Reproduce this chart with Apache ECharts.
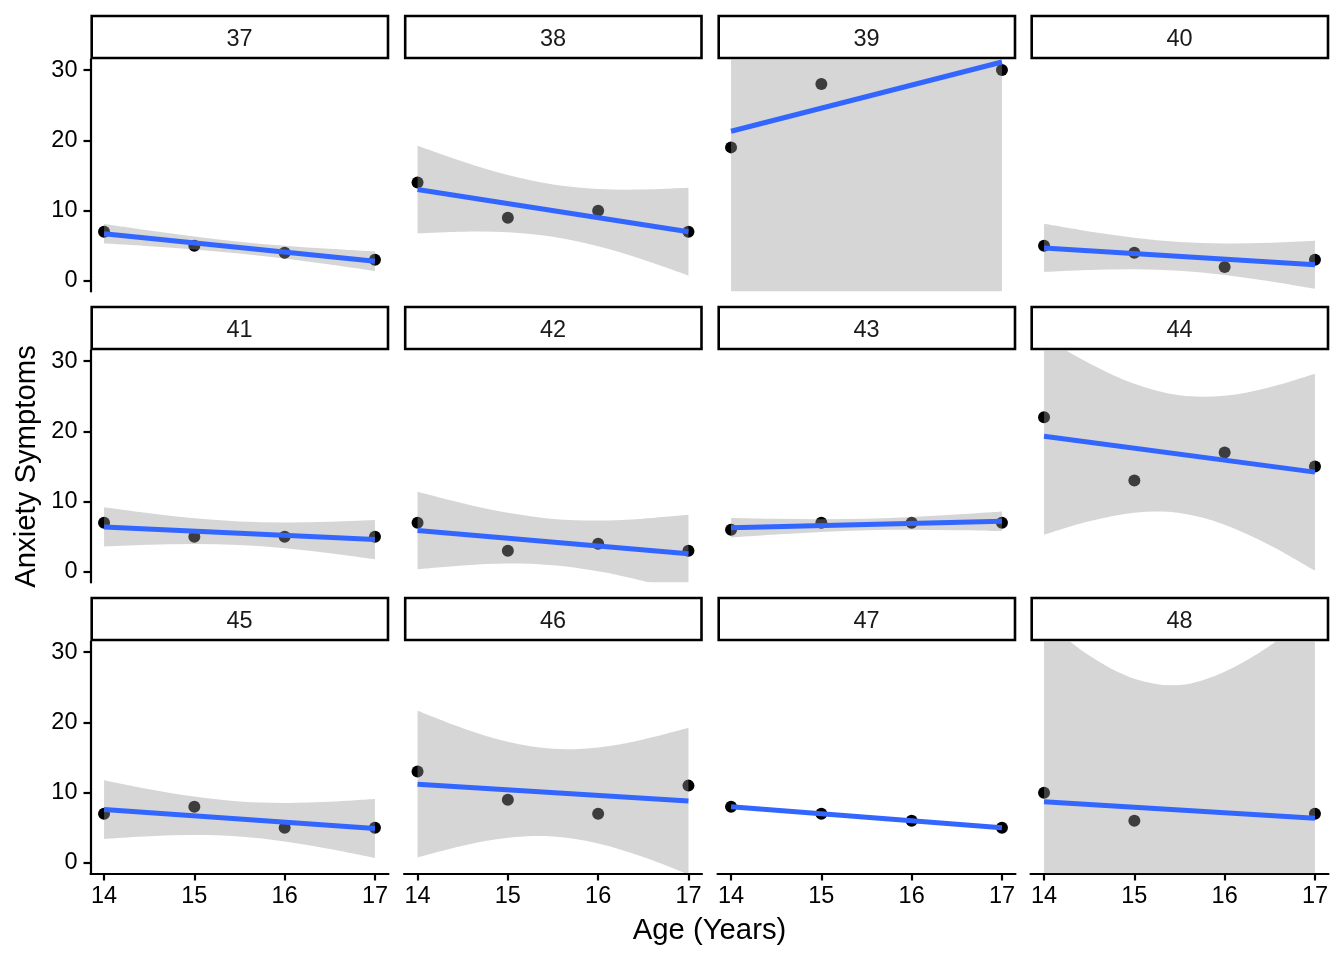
<!DOCTYPE html>
<html><head><meta charset="utf-8">
<script src="https://cdn.jsdelivr.net/npm/echarts@6.0.0/dist/echarts.min.js"></script>
<style>html,body{margin:0;padding:0;background:#fff}#c{width:1344px;height:960px}</style>
</head><body><div id="c"></div>
<script>
// ---- data ----
const panelIds = ['37','38','39','40','41','42','43','44','45','46','47','48'];
const ages = [14, 15, 16, 17];
const anxiety = [
  [7, 5, 4, 3],
  [14, 9, 10, 7],
  [19, 28, null, 30],
  [5, 4, 2, 3],
  [7, 5, 5, 5],
  [7, 3, 4, 3],
  [6, 7, 7, 7],
  [22, 13, 17, 15],
  [7, 8, 5, 5],
  [13, 9, 7, 11],
  [8, 7, 6, 5],
  [10, 6, null, 7]
];
const fitAt14 = [6.7, 13, 21.29, 4.7, 6.4, 5.9, 6.3, 19.3, 7.6, 11.2, 8, 8.71];
const fitAt17 = [2.8, 7, 31.14, 2.3, 4.6, 2.6, 7.2, 14.2, 4.9, 8.8, 5, 6.36];
const bandAges = [14, 14.5, 15, 15.5, 16, 16.5, 17];
const bandUpper = [
  [8.09, 7.17, 6.31, 5.58, 5.01, 4.57, 4.19],
  [19.24, 17.0, 15.08, 13.73, 13.08, 13.0, 13.24],
  [67.2, 60.6, 57.1, 57.9, 63.5, 72.5, 83.5],
  [8.12, 7.04, 6.14, 5.54, 5.34, 5.44, 5.72],
  [9.19, 8.34, 7.63, 7.17, 7.03, 7.14, 7.39],
  [11.42, 9.78, 8.41, 7.55, 7.31, 7.58, 8.12],
  [7.69, 7.57, 7.51, 7.58, 7.81, 8.17, 8.59],
  [33.31, 29.69, 26.77, 25.12, 25.07, 26.29, 28.21],
  [11.78, 10.50, 9.44, 8.75, 8.54, 8.70, 9.08],
  [21.64, 19.17, 17.23, 16.24, 16.43, 17.57, 19.24],
  [8, 7.5, 7, 6.5, 6, 5.5, 5],
  [34.5, 29.5, 26.2, 25.3, 27.2, 30.9, 35.8]
];
const bandLower = [
  [5.31, 4.93, 4.49, 3.92, 3.19, 2.33, 1.41],
  [6.76, 7.0, 6.92, 6.27, 4.92, 3.0, 0.76],
  [-24.6, -14.8, -7.9, -5.5, -7.7, -13.5, -21.3],
  [1.29, 1.56, 1.66, 1.46, 0.86, -0.04, -1.12],
  [3.61, 3.86, 3.97, 3.83, 3.37, 2.66, 1.81],
  [0.38, 0.93, 1.19, 0.95, 0.09, -1.28, -2.92],
  [4.91, 5.33, 5.69, 5.92, 5.99, 5.93, 5.81],
  [5.29, 7.21, 8.43, 8.38, 6.73, 3.81, 0.19],
  [3.42, 3.80, 3.96, 3.75, 3.06, 2.00, 0.72],
  [0.76, 2.43, 3.57, 3.76, 2.77, 0.83, -1.64],
  [8, 7.5, 7, 6.5, 6, 5.5, 5],
  [-17.1, -12.9, -10.3, -10.3, -12.9, -17.4, -23.1]
];
const xTicks = [14, 15, 16, 17];
const yTicks = [0, 10, 20, 30];
const xTitle = 'Age (Years)';
const yTitle = 'Anxiety Symptoms';

// ---- layout / style ----
const FONT = '"Liberation Sans", Arial, Helvetica, sans-serif';
const colLeft = [90.5, 404, 717.5, 1030.5];
const rowTop = [59.5, 350.5, 641.5];
const PW = 298, PH = 232, STRIP = 42;
const X_MIN = 13.85, X_MAX = 17.15, Y_MIN = -1.5, Y_MAX = 31.5;

// smooth path (Catmull-Rom -> cubic Bezier) through pixel points
function curveThrough(pts, startCmd) {
  let d = startCmd + pts[0][0] + ' ' + pts[0][1];
  for (let k = 0; k < pts.length - 1; k++) {
    const p0 = pts[Math.max(k - 1, 0)], p1 = pts[k], p2 = pts[k + 1], p3 = pts[Math.min(k + 2, pts.length - 1)];
    const c1x = p1[0] + (p2[0] - p0[0]) / 6, c1y = p1[1] + (p2[1] - p0[1]) / 6;
    const c2x = p2[0] - (p3[0] - p1[0]) / 6, c2y = p2[1] - (p3[1] - p1[1]) / 6;
    d += ' C' + c1x + ' ' + c1y + ' ' + c2x + ' ' + c2y + ' ' + p2[0] + ' ' + p2[1];
  }
  return d;
}

const grids = [], xAxes = [], yAxes = [], series = [], graphics = [];
panelIds.forEach((id, i) => {
  const r = Math.floor(i / 4), c = i % 4;
  const left = colLeft[c], top = rowTop[r];
  grids.push({left: left, top: top, width: PW, height: PH, outerBoundsMode: 'none', containLabel: false});
  const bottomRow = r === 2, leftCol = c === 0;
  xAxes.push({
    type: 'value', gridIndex: i, min: X_MIN, max: X_MAX,
    splitLine: {show: false},
    axisLine: {show: bottomRow, onZero: false, lineStyle: {color: '#000', width: 2.2}},
    axisTick: {show: bottomRow, customValues: xTicks, length: 7, lineStyle: {color: '#000', width: 2.2}},
    axisLabel: {show: bottomRow, customValues: xTicks, fontSize: 23.5, color: '#000', fontFamily: FONT, margin: 11}
  });
  yAxes.push({
    type: 'value', gridIndex: i, min: Y_MIN, max: Y_MAX,
    splitLine: {show: false},
    axisLine: {show: leftCol, onZero: false, lineStyle: {color: '#000', width: 2.2}},
    axisTick: {show: leftCol, customValues: yTicks, length: 7, lineStyle: {color: '#000', width: 2.2}},
    axisLabel: {show: leftCol, customValues: yTicks, fontSize: 23.5, color: '#000', fontFamily: FONT, margin: 13}
  });
  const pts = [];
  ages.forEach((a, k) => { if (anxiety[i][k] != null) pts.push([a, anxiety[i][k]]); });
  series.push({
    type: 'scatter', xAxisIndex: i, yAxisIndex: i, data: pts, symbolSize: 12,
    itemStyle: {color: '#000', opacity: 1}, z: 2, silent: true
  });
  series.push({
    type: 'custom', xAxisIndex: i, yAxisIndex: i, z: 3, silent: true, clip: true,
    data: bandAges.map((a, k) => [a, bandLower[i][k], bandUpper[i][k]]),
    encode: {x: 0, y: [1, 2]},
    renderItem: function (params, api) {
      if (params.dataIndex !== 0) return null;
      const up = bandAges.map((a, k) => api.coord([a, bandUpper[i][k]]));
      const lo = bandAges.map((a, k) => api.coord([a, bandLower[i][k]])).reverse();
      const d = curveThrough(up, 'M') + ' ' + curveThrough(lo, 'L') + ' Z';
      const cs = params.coordSys;
      return {
        type: 'path', shape: {pathData: d},
        style: {fill: 'rgba(153,153,153,0.4)', stroke: null},
        clipPath: {type: 'rect', shape: {x: cs.x, y: cs.y, width: cs.width, height: cs.height}}
      };
    }
  });
  series.push({
    type: 'line', xAxisIndex: i, yAxisIndex: i,
    data: [[14, fitAt14[i]], [17, fitAt17[i]]],
    symbol: 'none', lineStyle: {color: '#3366FF', width: 5, cap: 'butt'}, z: 4, silent: true, clip: true
  });
  graphics.push({
    type: 'rect', shape: {x: left + 1.2, y: top - STRIP - 1.5, width: PW - 1.7, height: STRIP},
    style: {fill: '#fff', stroke: '#000', lineWidth: 2.6}, z: 10
  });
  graphics.push({
    type: 'text', x: left + PW / 2, y: top - STRIP / 2 + 1.5,
    style: {text: id, fontSize: 23.5, fontFamily: FONT, fill: '#1A1A1A', textAlign: 'center', textVerticalAlign: 'middle'}, z: 11
  });
});
graphics.push({
  type: 'text', x: (colLeft[0] + colLeft[3] + PW) / 2, y: 931,
  style: {text: xTitle, fontSize: 29.3, fontFamily: FONT, fill: '#000', textAlign: 'center', textVerticalAlign: 'middle'}
});
graphics.push({
  type: 'text', x: 27, y: (rowTop[0] + rowTop[2] + PH) / 2, rotation: Math.PI / 2,
  style: {text: yTitle, fontSize: 29.3, fontFamily: FONT, fill: '#000', textAlign: 'center', textVerticalAlign: 'middle'}
});

const chart = echarts.init(document.getElementById('c'), null, {renderer: 'canvas'});
chart.setOption({
  animation: false,
  backgroundColor: '#fff',
  grid: grids, xAxis: xAxes, yAxis: yAxes, series: series, graphic: graphics
});
</script></body></html>
